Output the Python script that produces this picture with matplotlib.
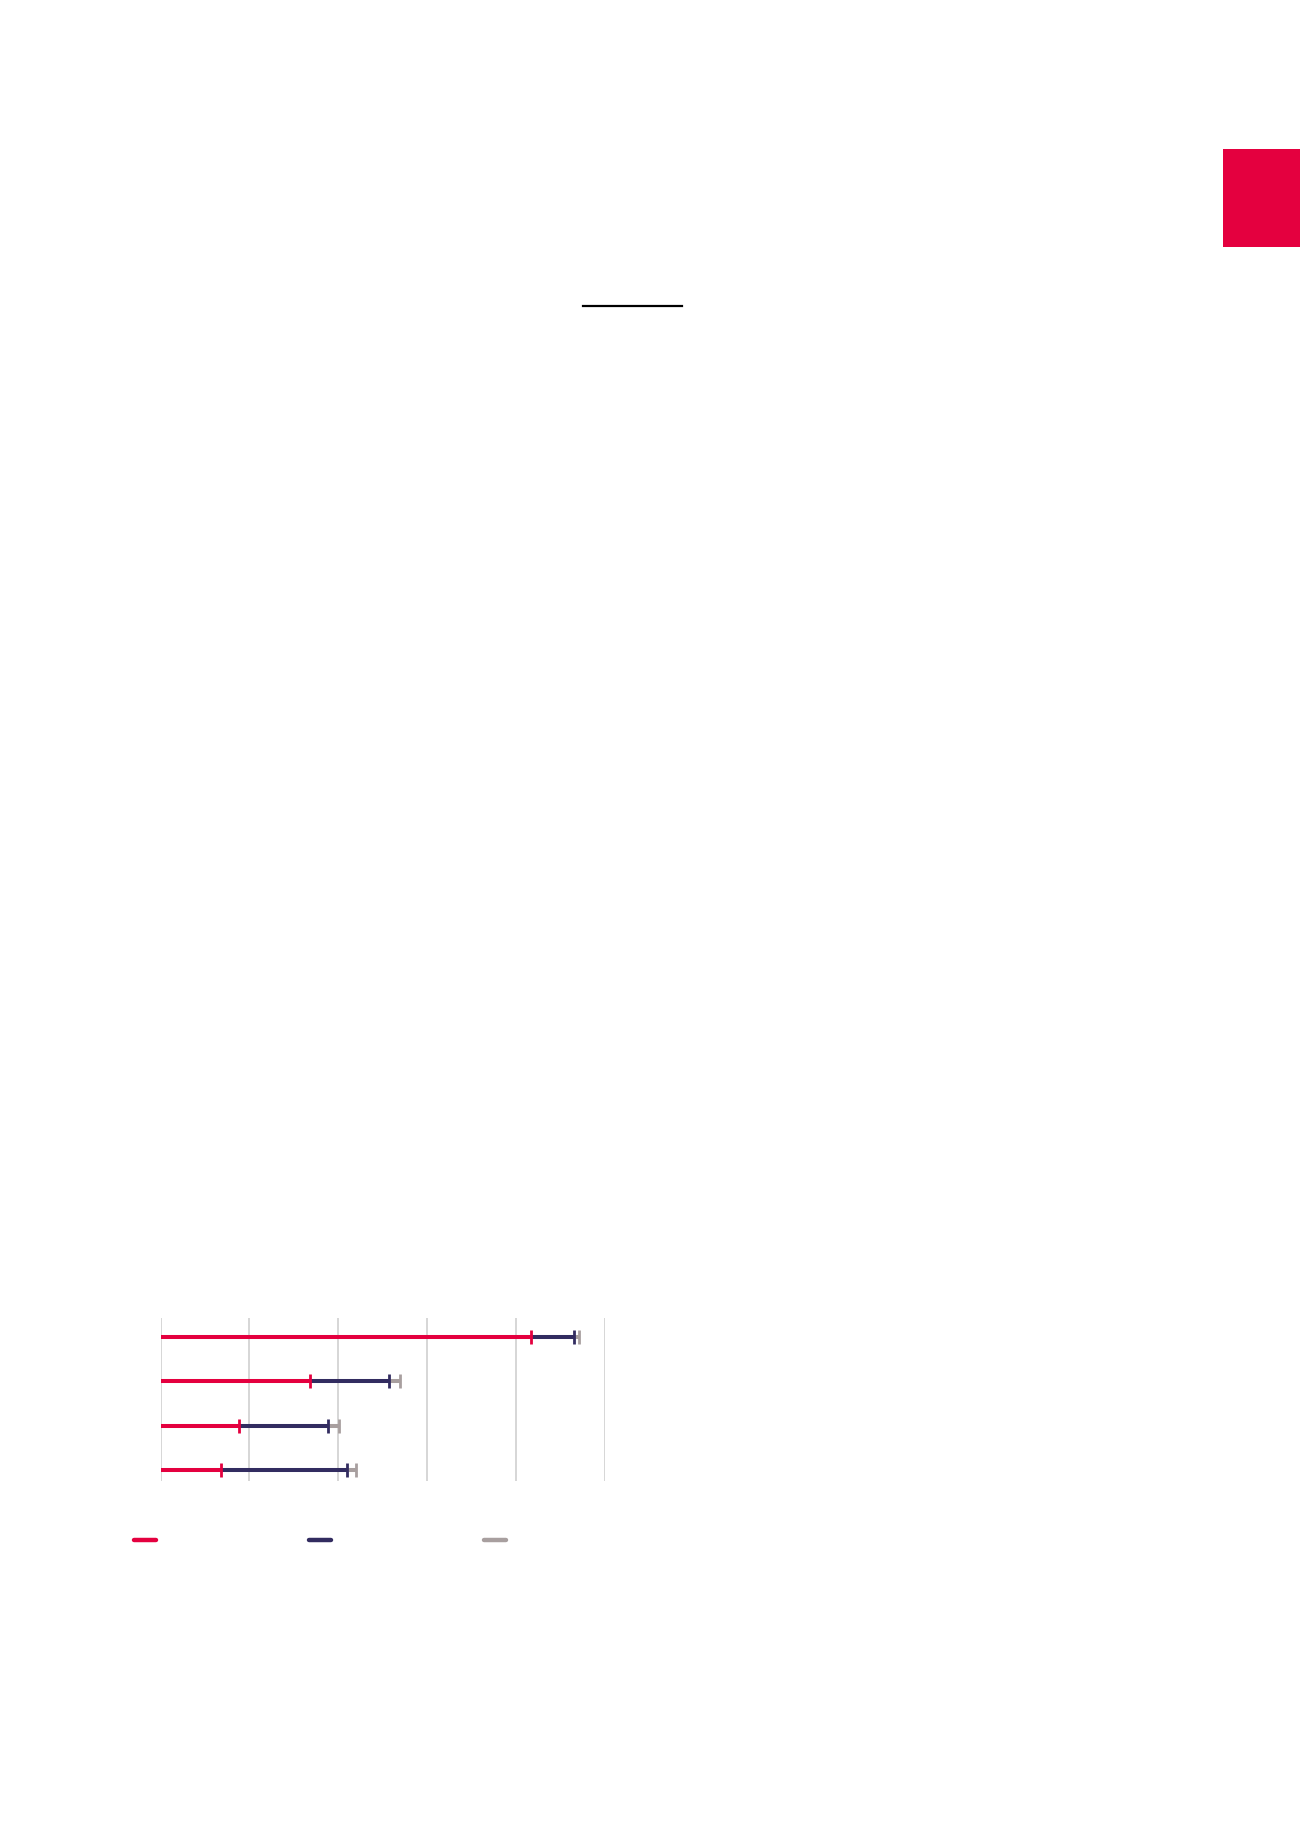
import numpy as np
import matplotlib.pyplot as plt
from matplotlib.lines import Line2D
from matplotlib.patches import Rectangle

# values (grid step = 10)
rows = ['A', 'B', 'C', 'D']
red_end = [41.7, 16.8, 8.8, 6.8]
navy_end = [46.5, 25.7, 18.9, 21.0]
grey_end = [47.1, 26.9, 20.1, 22.0]
grid_ticks = [0, 10, 20, 30, 40, 50]

RED = '#E4003F'
NAVY = '#322C60'
GREY = '#A89F9F'

W, H = 1300, 1839
fig = plt.figure(figsize=(W / 100, H / 100), dpi=100)
fig.patch.set_facecolor('white')

# axes placed in pixel terms
left, right = 160.7, 604.6
top, bottom = 1318.0, 1481.0
ax = fig.add_axes([left / W, 1 - bottom / H, (right - left) / W, (bottom - top) / H])

y = np.arange(len(rows))
lw = 2.9
for i in range(len(rows)):
    ax.plot([0, red_end[i]], [y[i], y[i]], color=RED, lw=lw, solid_capstyle='round', zorder=3)
    ax.plot([red_end[i], navy_end[i]], [y[i], y[i]], color=NAVY, lw=lw, solid_capstyle='butt', zorder=3)
    ax.plot([navy_end[i], grey_end[i]], [y[i], y[i]], color=GREY, lw=lw, solid_capstyle='butt', zorder=2)
    ax.plot(grey_end[i], y[i], marker='|', ms=10.5, mew=2, color=GREY, zorder=4)
    ax.plot(navy_end[i], y[i], marker='|', ms=10.5, mew=2, color=NAVY, zorder=5)
    ax.plot(red_end[i], y[i], marker='|', ms=10.5, mew=2, color=RED, zorder=5)

ax.set_xlim(grid_ticks[0], grid_ticks[-1])
ax.set_ylim(3.25, -0.43)
ax.set_xticks(grid_ticks)
ax.set_yticks([])
ax.tick_params(axis='x', length=0, labelbottom=False)
ax.grid(axis='x', color='#CFCFCF', lw=1.2)
ax.set_axisbelow(True)
for s in ax.spines.values():
    s.set_visible(False)
ax.set_facecolor('none')

# legend keys (labels are blank in the reference)
leg_y = 1 - 1540 / H
for x0, c in [(134.0, RED), (309.0, NAVY), (484.0, GREY)]:
    fig.add_artist(Line2D([x0 / W, (x0 + 22) / W], [leg_y, leg_y], color=c, lw=3.2,
                          solid_capstyle='round', transform=fig.transFigure))

# red tab at top right and the short rule under the title
fig.add_artist(Rectangle((1223 / W, 1 - 247 / H), (W - 1223) / W, 98 / H,
                         color=RED, transform=fig.transFigure, lw=0))
fig.add_artist(Line2D([583 / W, 682 / W], [1 - 306 / H, 1 - 306 / H], color='black', lw=1.6,
                      transform=fig.transFigure))

fig.savefig('out.png', dpi=100, facecolor='white')
